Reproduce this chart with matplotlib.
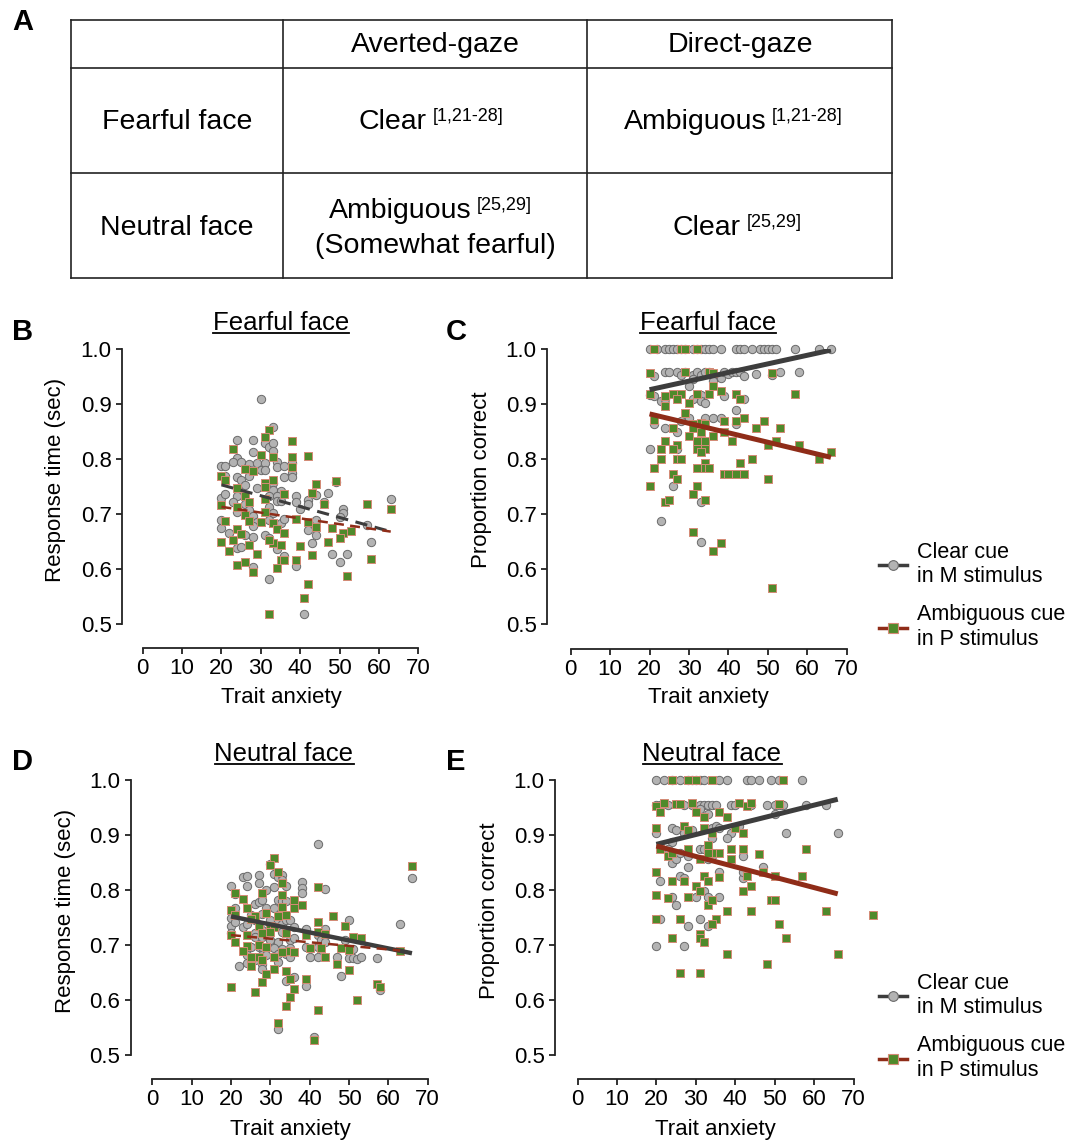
import matplotlib
matplotlib.use('Agg')
import matplotlib.pyplot as plt
from matplotlib.lines import Line2D
import numpy as np

plt.rcParams['font.family'] = ['Liberation Sans', 'DejaVu Sans']

# ---------------- table (panel A) ----------------
col_headers = ['Averted-gaze', 'Direct-gaze']
row_headers = ['Fearful face', 'Neutral face']
cell_main = [['Clear', 'Ambiguous'], ['Ambiguous', 'Clear']]
cell_refs = [['[1,21-28]', '[1,21-28]'], ['[25,29]', '[25,29]']]
cell_extra = [['', ''], ['(Somewhat fearful)', '']]

# ---------------- data: (trait anxiety, value) ----------------
B_clear = [(30,0.909),(33,0.859),(24,0.835),(28,0.835),(31,0.829),(32,0.822),(33,0.829),(33,0.815),(28,0.813),(24,0.801),
           (23,0.795),(25,0.795),(20,0.787),(21,0.787),(27,0.791),(29,0.792),(31,0.792),(30,0.780),(31,0.780),(34,0.794),
           (34,0.786),(36,0.787),(38,0.793),(38,0.775),(38,0.767),(36,0.767),(27,0.780),(27,0.770),(21,0.770),(24,0.768),
           (25,0.762),(26,0.753),(29,0.747),(33,0.756),(33,0.744),(35,0.741),(32,0.733),(34,0.733),(34,0.724),(35,0.724),
           (39,0.733),(39,0.721),(42,0.725),(42,0.719),(44,0.735),(46,0.722),(47,0.739),(49,0.759),(51,0.709),(51,0.702),
           (50,0.695),(57,0.680),(63,0.727),(20,0.730),(21,0.737),(24,0.732),(23,0.722),(24,0.704),(26,0.718),(27,0.707),
           (28,0.696),(29,0.685),(28,0.678),(32,0.713),(33,0.702),(32,0.689),(35,0.683),(36,0.691),(40,0.709),(43,0.685),
           (44,0.690),(42,0.671),(44,0.661),(43,0.647),(20,0.689),(20,0.674),(22,0.665),(26,0.661),(28,0.659),(31,0.661),
           (32,0.656),(24,0.638),(25,0.640),(34,0.636),(36,0.624),(48,0.627),(52,0.627),(50,0.612),(58,0.650),(28,0.603),
           (39,0.605),(32,0.581),(41,0.518)]
B_amb = [(32,0.853),(31,0.840),(38,0.833),(23,0.818),(30,0.808),(33,0.804),(38,0.804),(42,0.805),(38,0.786),(26,0.782),
         (28,0.779),(20,0.770),(21,0.762),(31,0.756),(33,0.762),(31,0.749),(24,0.747),(44,0.755),(49,0.760),(43,0.739),
         (26,0.733),(36,0.736),(20,0.716),(27,0.721),(31,0.727),(46,0.719),(57,0.718),(63,0.710),(24,0.713),(26,0.699),
         (31,0.704),(30,0.685),(21,0.688),(27,0.688),(39,0.691),(42,0.685),(33,0.683),(34,0.673),(36,0.666),(44,0.676),
         (48,0.675),(51,0.665),(53,0.669),(50,0.656),(47,0.650),(24,0.673),(25,0.664),(23,0.653),(20,0.650),(27,0.644),
         (33,0.647),(35,0.644),(32,0.652),(22,0.632),(29,0.628),(40,0.642),(43,0.626),(24,0.608),(26,0.613),(28,0.595),
         (34,0.601),(35,0.616),(36,0.616),(39,0.616),(52,0.587),(58,0.618),(42,0.573),(41,0.547),(32,0.519)]
B_fit_clear = [(20,0.753),(63,0.668)]
B_fit_amb = [(20,0.713),(63,0.668)]

C_clear = [(20,1.0),(22,1.0),(24,1.0),(25,1.0),(26,1.0),(27,1.0),(28,1.0),(29,1.0),(31,1.0),(32,1.0),
           (33,1.0),(34,1.0),(35,1.0),(36,1.0),(38,1.0),(42,1.0),(43,1.0),(44,1.0),(46,1.0),(48,1.0),
           (49,1.0),(50,1.0),(51,1.0),(52,1.0),(57,1.0),(63,1.0),(66,1.0),
           (21,0.951),(24,0.958),(25,0.958),(27,0.958),(28,0.953),(29,0.958),(31,0.953),(32,0.958),(33,0.953),(34,0.958),
           (35,0.958),(36,0.953),(38,0.948),(39,0.958),(40,0.955),(41,0.958),(42,0.958),(43,0.958),(44,0.951),(47,0.955),
           (51,0.953),(53,0.958),(58,0.958),(31,0.945),(30,0.933),(36,0.941),
           (20,0.917),(21,0.914),(23,0.906),(24,0.910),(27,0.914),(31,0.910),(33,0.917),(33,0.906),(34,0.902),(39,0.914),
           (44,0.909),(42,0.889),(21,0.864),(28,0.870),(30,0.874),(34,0.874),(36,0.874),(38,0.874),(42,0.864),(24,0.857),
           (27,0.850),(20,0.819),(27,0.819),(26,0.751),(33,0.722),(23,0.687),(33,0.650)]
C_amb = [(21,1.0),(28,1.0),(29,1.0),(32,1.0),
         (20,0.957),(29,0.958),(35,0.958),(36,0.957),(51,0.957),(36,0.933),
         (20,0.918),(24,0.896),(24,0.914),(26,0.918),(28,0.918),(27,0.909),(30,0.902),(32,0.918),(35,0.918),(38,0.924),
         (42,0.918),(43,0.909),(57,0.918),
         (21,0.871),(29,0.883),(31,0.864),(31,0.857),(33,0.865),(34,0.864),(39,0.870),(42,0.870),(44,0.874),(49,0.870),
         (47,0.857),(53,0.857),(26,0.857),(39,0.850),(33,0.850),
         (24,0.833),(27,0.826),(30,0.842),(32,0.833),(34,0.833),(36,0.842),(41,0.833),(50,0.826),(52,0.833),(58,0.826),
         (23,0.819),(26,0.819),(32,0.819),(34,0.819),(33,0.812),
         (23,0.800),(27,0.800),(28,0.800),(46,0.800),(63,0.800),(66,0.813),(34,0.793),
         (21,0.784),(32,0.784),(34,0.784),(35,0.784),(43,0.793),(26,0.773),(39,0.773),(40,0.773),(42,0.773),(44,0.773),
         (27,0.763),(50,0.763),
         (20,0.751),(32,0.751),(31,0.737),(24,0.722),(25,0.726),(34,0.726),(31,0.667),(38,0.648),(36,0.632),(51,0.565)]
C_fit_clear = [(20,0.926),(66,0.998)]
C_fit_amb = [(20,0.882),(66,0.803)]

D_clear = [(42,0.884),(30,0.847),(31,0.830),(32,0.824),(33,0.827),(33,0.818),(31,0.806),(34,0.807),(20,0.808),(23,0.824),
           (24,0.825),(24,0.807),(27,0.828),(27,0.812),(29,0.800),(38,0.814),(38,0.803),(38,0.794),(44,0.802),(21,0.792),
           (21,0.768),(26,0.774),(27,0.779),(28,0.782),(29,0.768),(31,0.767),(32,0.782),(33,0.780),(34,0.780),(33,0.758),
           (36,0.777),(25,0.755),(26,0.745),(28,0.756),(30,0.745),(32,0.745),(33,0.739),(34,0.745),(35,0.745),(20,0.750),
           (20,0.735),(20,0.722),(21,0.742),(23,0.733),(24,0.738),(26,0.722),(28,0.727),(30,0.733),(33,0.724),(36,0.733),
           (39,0.729),(42,0.718),(44,0.730),(50,0.745),(63,0.738),(26,0.715),(28,0.715),(30,0.709),(32,0.706),(35,0.709),
           (36,0.712),(39,0.697),(43,0.709),(44,0.706),(49,0.709),(25,0.697),(27,0.696),(28,0.697),(31,0.694),(33,0.692),
           (35,0.694),(42,0.697),(51,0.692),(24,0.682),(28,0.682),(29,0.682),(32,0.684),(34,0.684),(35,0.679),(40,0.679),
           (42,0.678),(47,0.679),(50,0.676),(51,0.676),(52,0.674),(53,0.679),(57,0.677),(22,0.661),(24,0.667),(26,0.672),
           (28,0.665),(32,0.670),(28,0.656),(34,0.635),(36,0.641),(39,0.626),(48,0.644),(58,0.618),(66,0.822),(32,0.548),
           (41,0.532)]
D_amb = [(31,0.858),(30,0.845),(32,0.832),(33,0.813),(42,0.806),(66,0.844),(21,0.794),(23,0.784),(28,0.795),(33,0.791),
         (36,0.782),(38,0.772),(33,0.770),(20,0.764),(24,0.767),(26,0.753),(29,0.759),(32,0.753),(34,0.755),(36,0.767),
         (46,0.753),(42,0.741),(49,0.735),(21,0.755),(25,0.748),(30,0.735),(31,0.732),(34,0.721),(39,0.718),(42,0.724),
         (44,0.720),(51,0.715),(53,0.712),(20,0.718),(24,0.719),(27,0.735),(28,0.721),(30,0.724),(21,0.706),(24,0.699),
         (27,0.700),(29,0.697),(31,0.679),(33,0.688),(35,0.690),(36,0.688),(40,0.695),(43,0.694),(48,0.695),(50,0.691),
         (63,0.689),(23,0.690),(25,0.679),(25,0.662),(27,0.679),(28,0.673),(31,0.656),(34,0.652),(35,0.639),(29,0.648),
         (28,0.633),(39,0.639),(44,0.679),(47,0.665),(50,0.655),(57,0.630),(58,0.624),(20,0.624),(26,0.615),(36,0.620),
         (35,0.605),(52,0.600),(34,0.589),(42,0.582),(32,0.558),(41,0.527)]
D_fit_clear = [(20,0.752),(66,0.685)]
D_fit_amb = [(20,0.718),(63,0.690)]

E_clear = [(20,1.0),(22,1.0),(24,1.0),(26,1.0),(28,1.0),(29,1.0),(30,1.0),(31,1.0),(32,1.0),(36,1.0),
           (38,1.0),(43,1.0),(44,1.0),(46,1.0),(49,1.0),(51,1.0),(57,1.0),
           (20,0.955),(21,0.955),(23,0.955),(27,0.955),(29,0.955),(31,0.955),(32,0.955),(33,0.955),(34,0.955),(35,0.955),
           (39,0.955),(40,0.955),(44,0.955),(48,0.955),(50,0.955),(51,0.955),(52,0.955),(58,0.955),(63,0.955),
           (31,0.947),(33,0.939),(50,0.939),
           (20,0.904),(24,0.913),(25,0.909),(27,0.904),(29,0.909),(34,0.912),(35,0.916),(36,0.912),(39,0.904),(41,0.916),
           (53,0.904),(66,0.904),(34,0.894),(38,0.894),(24,0.888),
           (23,0.874),(31,0.874),(32,0.874),(34,0.868),(24,0.850),(25,0.856),(26,0.868),(28,0.862),(33,0.856),(34,0.862),
           (42,0.862),(47,0.841),(36,0.832),(28,0.841),(26,0.825),(27,0.822),(21,0.817),(42,0.822),(42,0.832),
           (24,0.788),(25,0.772),(30,0.788),(32,0.799),(33,0.788),(36,0.788),(21,0.748),(31,0.748),(28,0.735),(33,0.735),
           (20,0.699),(27,0.699)]
E_amb = [(24,1.0),(28,1.0),(34,1.0),(52,1.0),(30,1.0),
         (20,0.952),(21,0.942),(22,0.958),(25,0.956),(26,0.956),(29,0.958),(30,0.941),(32,0.933),(36,0.941),(38,0.932),
         (41,0.958),(43,0.952),(44,0.958),(51,0.956),
         (20,0.913),(27,0.916),(28,0.909),(32,0.912),(34,0.903),(40,0.912),(42,0.904),
         (21,0.874),(23,0.862),(24,0.868),(28,0.874),(31,0.856),(33,0.882),(36,0.868),(39,0.874),(39,0.856),(42,0.874),
         (46,0.865),(58,0.874),(34,0.868),(33,0.868),
         (20,0.832),(24,0.817),(27,0.817),(32,0.825),(33,0.817),(36,0.823),(43,0.825),(47,0.832),(50,0.825),(57,0.825),
         (30,0.808),(31,0.799),(44,0.808),(42,0.799),
         (20,0.791),(23,0.785),(28,0.788),(33,0.772),(34,0.782),(49,0.782),(50,0.782),(20,0.748),(26,0.748),(35,0.748),
         (34,0.738),(38,0.761),(44,0.761),(63,0.761),(51,0.738),(24,0.713),(31,0.720),(31,0.712),(32,0.705),(53,0.713),
         (38,0.683),(66,0.683),(48,0.665),(26,0.650),(31,0.650),(75,0.755)]
E_fit_clear = [(20,0.883),(66,0.965)]
E_fit_amb = [(20,0.880),(66,0.793)]

x_ticks = [0, 10, 20, 30, 40, 50, 60, 70]
y_ticks = [0.5, 0.6, 0.7, 0.8, 0.9, 1.0]
legend_labels = ['Clear cue\nin M stimulus', 'Ambiguous cue\nin P stimulus']

# ---------------- styles ----------------
W, H = 1083, 1143
GREY_FACE, GREY_EDGE = '#b3b3b3', '#6a6a6a'
GREEN_FACE, GREEN_EDGE = '#4f8a2b', '#d58a76'
LINE_GREY, LINE_RED = '#3d3d3d', '#8f2c18'

fig = plt.figure(figsize=(W / 100, H / 100), dpi=100)
ov = fig.add_axes([0, 0, 1, 1])
ov.set_xlim(0, W)
ov.set_ylim(H, 0)
ov.axis('off')

# table grid
xs = [71, 283, 587, 892]
ys = [20, 68, 173, 278]
for y in ys:
    ov.plot([xs[0], xs[-1]], [y, y], color='#222222', lw=1.2, solid_capstyle='projecting')
for x in xs:
    ov.plot([x, x], [ys[0], ys[-1]], color='#222222', lw=1.2, solid_capstyle='projecting')

TFS = 20.5
ov.text(435, 45, col_headers[0], ha='center', va='center', fontsize=TFS)
ov.text(740, 45, col_headers[1], ha='center', va='center', fontsize=TFS)
ov.text(177, 122, row_headers[0], ha='center', va='center', fontsize=TFS)
ov.text(177, 228, row_headers[1], ha='center', va='center', fontsize=TFS)

main_pos = [[(359, 122), (624, 122)], [(329, 211), (673, 228)]]
for r in range(2):
    for c in range(2):
        x, y = main_pos[r][c]
        t = ov.text(x, y, cell_main[r][c], ha='left', va='center', fontsize=TFS)
        ov.annotate(cell_refs[r][c], xy=(1, 1), xycoords=t, xytext=(4, 1),
                    textcoords='offset points', ha='left', va='top', fontsize=13)
        if cell_extra[r][c]:
            ov.text(435, 246, cell_extra[r][c], ha='center', va='center', fontsize=TFS)

# panel letters
for lab, (x, y) in zip('ABCDE', [(12, 22), (12, 332), (446, 332), (12, 762), (446, 762)]):
    ov.text(x, y, lab, fontsize=21, fontweight='bold', ha='left', va='center')


def rect(x0, x1, yt, yb):
    return [x0 / W, 1 - yb / H, (x1 - x0) / W, (yb - yt) / H]


panels = [
    dict(r=(142.7, 418.3, 349, 624), off=(20.7, 24), clear=B_clear, amb=B_amb,
         fc=B_fit_clear, fa=B_fit_amb, ls_c='--', ls_a='--', lw_c=2.2, lw_a=1.8, legend=False),
    dict(r=(570.7, 846.7, 349, 624), off=(23.7, 25), clear=C_clear, amb=C_amb,
         fc=C_fit_clear, fa=C_fit_amb, ls_c='-', ls_a='-', lw_c=3.6, lw_a=3.6, legend=True),
    dict(r=(152.3, 427.7, 780, 1055), off=(21.6, 24), clear=D_clear, amb=D_amb,
         fc=D_fit_clear, fa=D_fit_amb, ls_c='-', ls_a='--', lw_c=3.2, lw_a=1.8, legend=False),
    dict(r=(577.5, 853.5, 780, 1055), off=(22.5, 24), clear=E_clear, amb=E_amb,
         fc=E_fit_clear, fa=E_fit_amb, ls_c='-', ls_a='-', lw_c=3.6, lw_a=3.6, legend=True),
]

for p in panels:
    ax = fig.add_axes(rect(*p['r']))
    ax.patch.set_alpha(0)
    cx, cy = zip(*p['clear'])
    axx, ayy = zip(*p['amb'])
    ax.scatter(cx, cy, s=36, marker='o', facecolor=GREY_FACE, edgecolor=GREY_EDGE,
               linewidth=0.7, zorder=2, clip_on=False)
    ax.scatter(axx, ayy, s=30, marker='s', facecolor=GREEN_FACE, edgecolor=GREEN_EDGE,
               linewidth=0.7, zorder=2, clip_on=False)
    fx, fy = zip(*p['fc'])
    ax.plot(fx, fy, color=LINE_GREY, lw=p['lw_c'], ls=p['ls_c'], zorder=3,
            dashes=(4, 2.5) if p['ls_c'] == '--' else (None, None), solid_capstyle='butt')
    fx, fy = zip(*p['fa'])
    ax.plot(fx, fy, color=LINE_RED, lw=p['lw_a'], ls=p['ls_a'], zorder=3,
            dashes=(4, 2.5) if p['ls_a'] == '--' else (None, None), solid_capstyle='butt')
    ax.set_xlim(0, 70)
    ax.set_ylim(0.5, 1.0)
    ax.set_xticks(x_ticks)
    ax.set_yticks(y_ticks)
    ax.set_yticklabels([f'{v:.1f}' for v in y_ticks])
    for s in ['top', 'right']:
        ax.spines[s].set_visible(False)
    ax.spines['left'].set_position(('outward', p['off'][0] * 0.72))
    ax.spines['bottom'].set_position(('outward', p['off'][1] * 0.72))
    for s in ['left', 'bottom']:
        ax.spines[s].set_linewidth(1.3)
        ax.spines[s].set_color('#222222')
    ax.tick_params(direction='out', length=4.5, width=1.3, labelsize=16, pad=3, color='#222222')
    if p['legend']:
        h1 = Line2D([], [], color=LINE_GREY, lw=2.5, marker='o', ms=7,
                    mfc=GREY_FACE, mec=GREY_EDGE, mew=0.8)
        h2 = Line2D([], [], color=LINE_RED, lw=2.5, marker='s', ms=6.5,
                    mfc=GREEN_FACE, mec=GREEN_EDGE, mew=0.8)
        yt = p['r'][2]
        fig.legend([h1, h2], legend_labels, loc='upper left',
                   bbox_to_anchor=(864 / W, 1 - (yt + 178) / H), frameon=False,
                   fontsize=15.5, handlelength=1.3, handletextpad=0.45,
                   labelspacing=0.8, borderpad=0.2)

# axis labels
for (x, y) in [(281, 698), (708, 698), (290, 1130), (715, 1130)]:
    ov.text(x, y, 'Trait anxiety', ha='center', va='center', fontsize=16)
ov.text(55, 480, 'Response time (sec)', rotation=90, ha='center', va='center', fontsize=16)
ov.text(481, 480, 'Proportion correct', rotation=90, ha='center', va='center', fontsize=16)
ov.text(65, 911, 'Response time (sec)', rotation=90, ha='center', va='center', fontsize=16)
ov.text(489, 911, 'Proportion correct', rotation=90, ha='center', va='center', fontsize=16)

# titles with underline
titles = [('Fearful face', 281, 330), ('Fearful face', 708, 330),
          ('Neutral face', 284, 761), ('Neutral face', 712, 761)]
tobjs = []
for s, x, y in titles:
    tobjs.append(ov.text(x, y, s, ha='center', va='baseline', fontsize=18.5))
fig.canvas.draw()
for t, (s, x, y) in zip(tobjs, titles):
    bb = t.get_window_extent()
    ov.plot([bb.x0, bb.x1], [y + 2.5, y + 2.5], color='black', lw=1.3)

fig.savefig('out.png', dpi=100)
